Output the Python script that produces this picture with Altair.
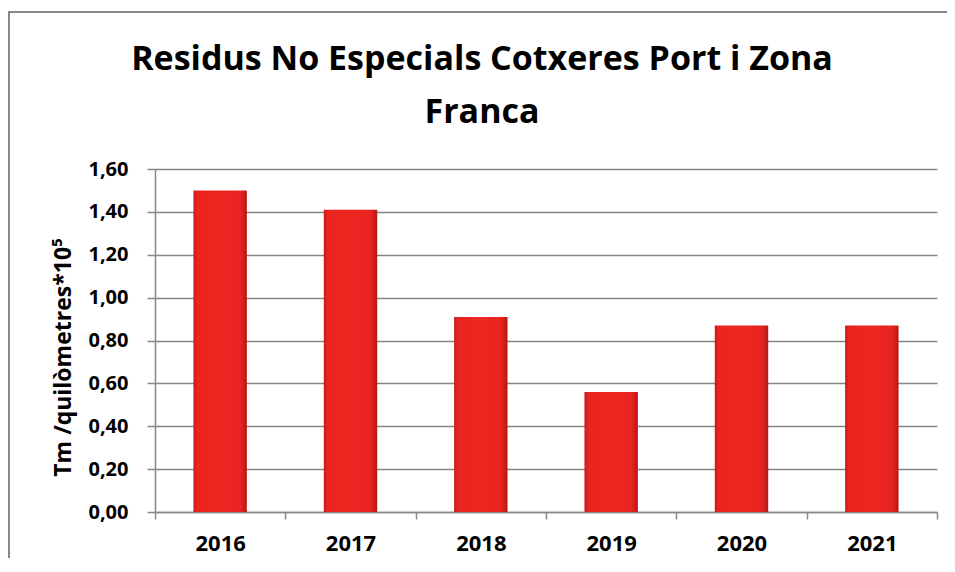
import altair as alt
import pandas as pd

# ---- data ----
years = ["2016", "2017", "2018", "2019", "2020", "2021"]
values = [1.50, 1.41, 0.91, 0.56, 0.87, 0.87]
y_ticks = [0.0, 0.2, 0.4, 0.6, 0.8, 1.0, 1.2, 1.4, 1.6]
title_lines = ["Residus No Especials Cotxeres Port i Zona", "Franca"]
y_title = "Tm /quilòmetres*10⁵"

df = pd.DataFrame({"year": years, "value": values})
frame_df = pd.DataFrame({"k": [0]})

W, H = 782, 343
FONT = "Open Sans"
GRAY = "#888888"

bar_fill = alt.Gradient(
    gradient="linear",
    x1=0, x2=1, y1=0, y2=0,
    stops=[
        alt.GradientStop(color="#C41B18", offset=0.0),
        alt.GradientStop(color="#EA2420", offset=0.07),
        alt.GradientStop(color="#EE2622", offset=0.5),
        alt.GradientStop(color="#E82420", offset=0.88),
        alt.GradientStop(color="#B51815", offset=1.0),
    ],
)

bars = alt.Chart(df).mark_bar(
    width=alt.RelativeBandSize(0.41), color=bar_fill
).encode(
    x=alt.X(
        "year:N",
        sort=years,
        scale=alt.Scale(paddingInner=0, paddingOuter=0),
        axis=alt.Axis(
            title=None,
            labelAngle=0,
            labelFont=FONT,
            labelFontSize=22,
            labelFontWeight="bold",
            labelColor="black",
            labelPadding=14,
            tickBand="extent",
            tickSize=7,
            tickColor=GRAY,
            tickWidth=1.5,
            domainColor=GRAY,
            domainWidth=1.5,
            grid=False,
        ),
    ),
    y=alt.Y(
        "value:Q",
        scale=alt.Scale(domain=[0, 1.6], nice=False),
        axis=alt.Axis(
            values=y_ticks,
            labelExpr="replace(format(datum.value, '.2f'), '.', ',')",
            labelFont=FONT,
            labelFontSize=20,
            labelFontWeight="bold",
            labelColor="black",
            labelPadding=19,
            tickSize=8,
            tickColor=GRAY,
            tickWidth=1.5,
            domainColor=GRAY,
            domainWidth=1.5,
            grid=True,
            gridColor="#858585",
            gridWidth=1.5,
            title=y_title,
            titleFont=FONT,
            titleFontSize=23,
            titleFontWeight="bold",
            titleColor="black",
            titleAngle=270,
            titleAlign="center",
            titleBaseline="middle",
            titleX=-92,
            titleY=188,
        ),
    ),
)

# outer chart frame: only its top and left edges fall inside the canvas
frame_box = alt.Chart(frame_df).mark_rect(
    fill="transparent", stroke=GRAY, strokeWidth=2
).encode(
    x=alt.value(-146), x2=alt.value(840), y=alt.value(-157), y2=alt.value(430)
)

chart = alt.layer(bars, frame_box).properties(
    width=W,
    height=H,
    title=alt.Title(
        text=title_lines,
        font=FONT,
        fontSize=34,
        fontWeight="bold",
        color="black",
        anchor="middle",
        frame="group",
        baseline="alphabetic",
        lineHeight=53,
        offset=-146,
        dx=-64,
    ),
    autosize=alt.AutoSizeParams(type="none"),
    padding={"left": 147, "top": 161, "right": 10, "bottom": 46},
    background="white",
).configure_view(stroke=None)

chart.save("out.html", embed_options={"renderer": "svg", "actions": False})
